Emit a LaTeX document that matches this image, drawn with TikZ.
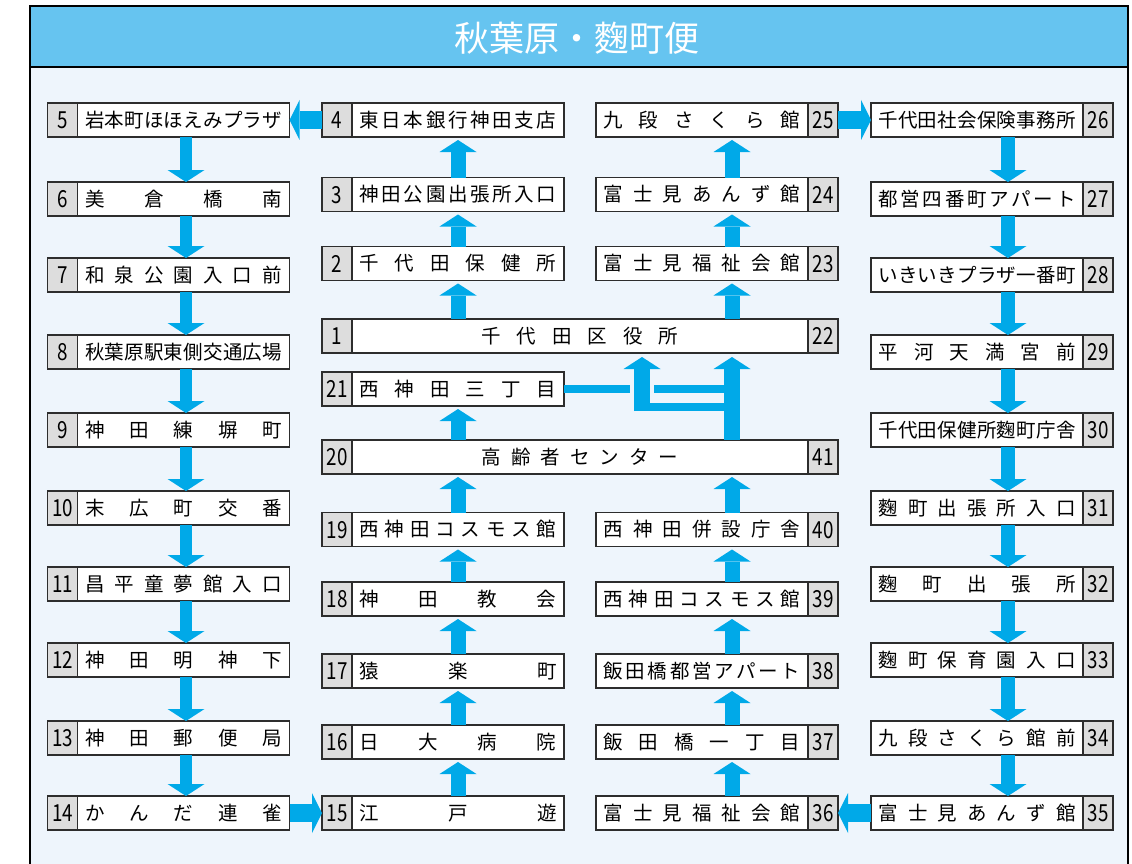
\documentclass[tikz,border=0pt]{standalone}
\usepackage{fontspec}
\setmainfont{Noto Sans CJK JP}
\newfontfamily\numfont[FakeStretch=0.8]{Noto Sans CJK JP}
\usetikzlibrary{positioning,arrows.meta}

\definecolor{headblue}{RGB}{102,196,240}
\definecolor{paleblue}{RGB}{238,245,252}
\definecolor{routeblue}{RGB}{0,169,232}
\definecolor{cellgray}{RGB}{221,221,221}
\definecolor{edgegray}{RGB}{45,45,45}

% spread the characters of a stop name over the cell
\newcommand\spread[1]{\makebox[197pt][s]{\spreadfirst#1\relax}}
\def\spreadfirst#1{#1\spreadrest}
\def\spreadrest#1{\ifx#1\relax\else\hfill#1\expandafter\spreadrest\fi}

\tikzset{
		stopname/.style = {draw=edgegray, line width=1.2pt, fill=white,
				minimum width=212pt, minimum height=34pt,
				inner sep=0pt, outer sep=0pt,
				text height=17pt, text depth=2.5pt},
		stopnum/.style  = {stopname, fill=cellgray, minimum width=30pt,
				font=\numfont\fontsize{23.5}{24}\selectfont,
				text height=17.5pt, text depth=0.5pt},
		widename/.style = {stopname, minimum width=456pt},
		godown/.style   = {routeblue, line width=12pt,
				-{Triangle[width=37pt,length=12pt,line width=0pt]}},
		goup/.style     = {routeblue, line width=15pt, shorten >=3pt,
				-{Triangle[width=37pt,length=12pt,line width=0pt]}},
		goside/.style   = {routeblue, line width=18pt,
				-{Triangle[width=40pt,length=10pt,line width=0pt]}},
		linkline/.style = {routeblue, line width=7.5pt}
	}

\begin{document}
\begin{tikzpicture}
		[x=1pt, y=-1pt,
			node distance = 0pt,
			every node/.style = {font=\fontsize{19.5}{20}\selectfont},
		]
		\useasboundingbox (0,0) rectangle (1132,864);
		% frame and title band
		\fill[paleblue] (30,67) rectangle (1128,866);
		\draw[line width=1.5pt] (30,866) -- (30,6) -- (1128,6) -- (1128,866);
		\filldraw[fill=headblue, line width=1.5pt] (30,6) rectangle (1128,67);
		\node[font=\fontsize{35}{38}\selectfont, white] (title) at (577,38) {秋葉原・麴町便};

		% left column
		\node[stopname] (s5) at (183.5,120) {\spread{岩本町ほほえみプラザ}};
		\node[stopnum, left=of s5] (n5) {5};
		\node[stopname] (s6) at (183.5,199) {\spread{美倉橋南}};
		\node[stopnum, left=of s6] (n6) {6};
		\node[stopname] (s7) at (183.5,275) {\spread{和泉公園入口前}};
		\node[stopnum, left=of s7] (n7) {7};
		\node[stopname] (s8) at (183.5,352) {\spread{秋葉原駅東側交通広場}};
		\node[stopnum, left=of s8] (n8) {8};
		\node[stopname] (s9) at (183.5,430) {\spread{神田練塀町}};
		\node[stopnum, left=of s9] (n9) {9};
		\node[stopname] (s10) at (183.5,508) {\spread{末広町交番}};
		\node[stopnum, left=of s10] (n10) {10};
		\node[stopname] (s11) at (183.5,584) {\spread{昌平童夢館入口}};
		\node[stopnum, left=of s11] (n11) {11};
		\node[stopname] (s12) at (183.5,660) {\spread{神田明神下}};
		\node[stopnum, left=of s12] (n12) {12};
		\node[stopname] (s13) at (183.5,738) {\spread{神田郵便局}};
		\node[stopnum, left=of s13] (n13) {13};
		\node[stopname] (s14) at (183.5,813) {\spread{かんだ連雀}};
		\node[stopnum, left=of s14] (n14) {14};

		% middle left column
		\node[stopname] (s4) at (458,120) {\spread{東日本銀行神田支店}};
		\node[stopnum, left=of s4] (n4) {4};
		\node[stopname] (s3) at (458,194.5) {\spread{神田公園出張所入口}};
		\node[stopnum, left=of s3] (n3) {3};
		\node[stopname] (s2) at (458,263.5) {\spread{千代田保健所}};
		\node[stopnum, left=of s2] (n2) {2};
		\node[widename] (s1) at (580,336) {\spread{千代田区役所}};
		\node[stopnum, left=of s1] (n1) {1};
		\node[stopnum, right=of s1] (n22) {22};
		\node[stopname] (s21) at (458,389) {\spread{西神田三丁目}};
		\node[stopnum, left=of s21] (n21) {21};
		\node[widename] (s20) at (580,457) {\spread{高齢者センター}};
		\node[stopnum, left=of s20] (n20) {20};
		\node[stopnum, right=of s20] (n41) {41};
		\node[stopname] (s19) at (458,529.5) {\spread{西神田コスモス館}};
		\node[stopnum, left=of s19] (n19) {19};
		\node[stopname] (s18) at (458,599) {\spread{神田教会}};
		\node[stopnum, left=of s18] (n18) {18};
		\node[stopname] (s17) at (458,671) {\spread{猿楽町}};
		\node[stopnum, left=of s17] (n17) {17};
		\node[stopname] (s16) at (458,742) {\spread{日大病院}};
		\node[stopnum, left=of s16] (n16) {16};
		\node[stopname] (s15) at (458,813) {\spread{江戸遊}};
		\node[stopnum, left=of s15] (n15) {15};

		% middle right column
		\node[stopname] (s25) at (702,120) {\spread{九段さくら館}};
		\node[stopnum, right=of s25] (n25) {25};
		\node[stopname] (s24) at (702,194.5) {\spread{富士見あんず館}};
		\node[stopnum, right=of s24] (n24) {24};
		\node[stopname] (s23) at (702,263.5) {\spread{富士見福祉会館}};
		\node[stopnum, right=of s23] (n23) {23};
		\node[stopname] (s40) at (702,529.5) {\spread{西神田併設庁舎}};
		\node[stopnum, right=of s40] (n40) {40};
		\node[stopname] (s39) at (702,599) {\spread{西神田コスモス館}};
		\node[stopnum, right=of s39] (n39) {39};
		\node[stopname] (s38) at (702,671) {\spread{飯田橋都営アパート}};
		\node[stopnum, right=of s38] (n38) {38};
		\node[stopname] (s37) at (702,742) {\spread{飯田橋一丁目}};
		\node[stopnum, right=of s37] (n37) {37};
		\node[stopname] (s36) at (702,813) {\spread{富士見福祉会館}};
		\node[stopnum, right=of s36] (n36) {36};

		% right column
		\node[stopname] (s26) at (977,120) {\spread{千代田社会保険事務所}};
		\node[stopnum, right=of s26] (n26) {26};
		\node[stopname] (s27) at (977,199) {\spread{都営四番町アパート}};
		\node[stopnum, right=of s27] (n27) {27};
		\node[stopname] (s28) at (977,275) {\spread{いきいきプラザ一番町}};
		\node[stopnum, right=of s28] (n28) {28};
		\node[stopname] (s29) at (977,352) {\spread{平河天満宮前}};
		\node[stopnum, right=of s29] (n29) {29};
		\node[stopname] (s30) at (977,430) {\spread{千代田保健所麴町庁舎}};
		\node[stopnum, right=of s30] (n30) {30};
		\node[stopname] (s31) at (977,508) {\spread{麴町出張所入口}};
		\node[stopnum, right=of s31] (n31) {31};
		\node[stopname] (s32) at (977,584) {\spread{麴町出張所}};
		\node[stopnum, right=of s32] (n32) {32};
		\node[stopname] (s33) at (977,660) {\spread{麴町保育園入口}};
		\node[stopnum, right=of s33] (n33) {33};
		\node[stopname] (s34) at (977,738) {\spread{九段さくら館前}};
		\node[stopnum, right=of s34] (n34) {34};
		\node[stopname] (s35) at (977,813) {\spread{富士見あんず館}};
		\node[stopnum, right=of s35] (n35) {35};

		% turning points near the ward office
		\coordinate (lx) at (642,407);
		\coordinate (rx) at (732,407);

		% 1 -> 4
		\draw[goup] (s2.south |- s1.north) -- (s2.south);
		\draw[goup] (s2.north) -- (s3.south);
		\draw[goup] (s3.north) -- (s4.south);
		% sideways
		\draw[goside] (n4.west) -- (s5.east);
		\draw[goside] (s14.east) -- (n15.west);
		\draw[goside] (n25.east) -- (s26.west);
		\draw[goside] (s35.west) -- (n36.east);
		% 5 -> 14
		\draw[godown] ([xshift=2.5pt]s5.south) -- ([xshift=2.5pt]s6.north);
		\draw[godown] ([xshift=2.5pt]s6.south) -- ([xshift=2.5pt]s7.north);
		\draw[godown] ([xshift=2.5pt]s7.south) -- ([xshift=2.5pt]s8.north);
		\draw[godown] ([xshift=2.5pt]s8.south) -- ([xshift=2.5pt]s9.north);
		\draw[godown] ([xshift=2.5pt]s9.south) -- ([xshift=2.5pt]s10.north);
		\draw[godown] ([xshift=2.5pt]s10.south) -- ([xshift=2.5pt]s11.north);
		\draw[godown] ([xshift=2.5pt]s11.south) -- ([xshift=2.5pt]s12.north);
		\draw[godown] ([xshift=2.5pt]s12.south) -- ([xshift=2.5pt]s13.north);
		\draw[godown] ([xshift=2.5pt]s13.south) -- ([xshift=2.5pt]s14.north);
		% 15 -> 21
		\draw[goup] (s15.north) -- (s16.south);
		\draw[goup] (s16.north) -- (s17.south);
		\draw[goup] (s17.north) -- (s18.south);
		\draw[goup] (s18.north) -- (s19.south);
		\draw[goup] (s19.north) -- (s19.north |- s20.south);
		\draw[goup] (s21.south |- s20.north) -- (s21.south);
		% 21 -> 22, 41 -> 1
		\draw[goup, shorten >=4pt, line width=16pt] (rx |- s20.north) -- (rx |- s1.south);
		\draw[goup, shorten >=4pt, line width=16pt] ([yshift=-4pt]lx) -- (lx |- s1.south);
		\draw[linkline, line width=8pt] ([xshift=-8pt]lx) -- (rx);
		\draw[linkline] (s21.east) -- ([xshift=-12pt]lx |- s21.east);
		\draw[linkline] ([xshift=12pt]lx |- s21.east) -- (rx |- s21.east);
		% 22 -> 25
		\draw[goup] (rx |- s1.north) -- (rx |- s23.south);
		\draw[goup] (rx |- s23.north) -- (rx |- s24.south);
		\draw[goup] (rx |- s24.north) -- (rx |- s25.south);
		% 26 -> 35
		\draw[godown, line width=14pt] ([xshift=31pt]s26.south) -- ([xshift=31pt]s27.north);
		\draw[godown, line width=14pt] ([xshift=31pt]s27.south) -- ([xshift=31pt]s28.north);
		\draw[godown, line width=14pt] ([xshift=31pt]s28.south) -- ([xshift=31pt]s29.north);
		\draw[godown, line width=14pt] ([xshift=31pt]s29.south) -- ([xshift=31pt]s30.north);
		\draw[godown, line width=14pt] ([xshift=31pt]s30.south) -- ([xshift=31pt]s31.north);
		\draw[godown, line width=14pt] ([xshift=31pt]s31.south) -- ([xshift=31pt]s32.north);
		\draw[godown, line width=14pt] ([xshift=31pt]s32.south) -- ([xshift=31pt]s33.north);
		\draw[godown, line width=14pt] ([xshift=31pt]s33.south) -- ([xshift=31pt]s34.north);
		\draw[godown, line width=14pt] ([xshift=31pt]s34.south) -- ([xshift=31pt]s35.north);
		% 36 -> 41
		\draw[goup] (rx |- s36.north) -- (rx |- s37.south);
		\draw[goup] (rx |- s37.north) -- (rx |- s38.south);
		\draw[goup] (rx |- s38.north) -- (rx |- s39.south);
		\draw[goup] (rx |- s39.north) -- (rx |- s40.south);
		\draw[goup] (rx |- s40.north) -- (rx |- s20.south);
	\end{tikzpicture}
\end{document}
